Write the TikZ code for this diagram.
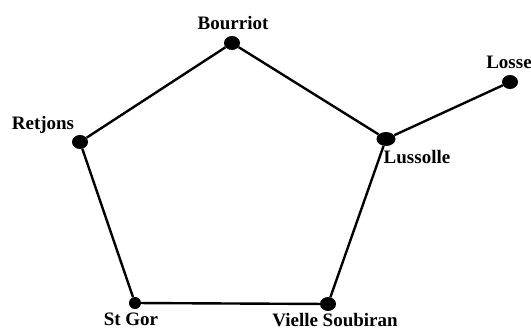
\documentclass[tikz,border=0pt]{standalone}
\usepackage{fontspec}
\setmainfont{Liberation Serif}
\usetikzlibrary{shapes.geometric}

\begin{document}
\begin{tikzpicture}[x=1pt,y=-1pt, every node/.style={font=\bfseries\fontsize{19}{21}\selectfont}, town/.style={ellipse,fill=black,inner sep=0pt,minimum width=16pt,minimum height=14pt}, road/.style={line width=2.4pt,draw=black}]
\useasboundingbox (0,0) rectangle (531,330);
% villages
\node[town] (bourriot) at (232,43) {};
\node[town] (losse) at (510,82) {};
\node[town] (retjons) at (80,142) {};
\node[town,minimum width=19pt] (lussolle) at (386,139) {};
\node[town,minimum width=12pt,minimum height=12pt] (stgor) at (135,303) {};
\node[town] (vielle) at (328,304) {};
% names
\node (lbourriot) at (233,23) {Bourriot};
\node (llosse) at (509,62) {Losse};
\node (lretjons) at (43,125) {Retjons};
\node (llussolle) at (417,157) {Lussolle};
\node (lstgor) at (131,319) {St Gor};
\node (lvielle) at (335,320) {Vielle Soubiran};
% roads
\draw[road] (bourriot)--(lussolle)--(vielle)--(stgor)--(retjons)--(bourriot);
\draw[road] (lussolle)--(losse);
\end{tikzpicture}
\end{document}
